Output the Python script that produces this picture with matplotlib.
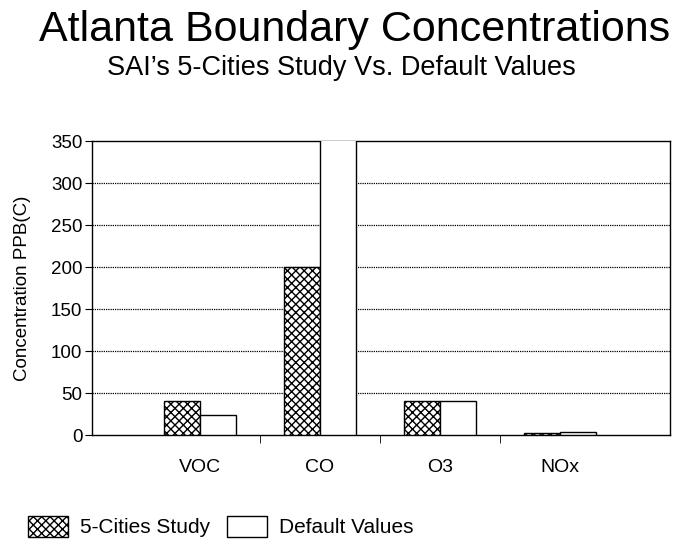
import numpy as np
import matplotlib.pyplot as plt

plt.rcParams['font.family'] = ['Liberation Sans', 'DejaVu Sans']
plt.rcParams['hatch.linewidth'] = 1.0

categories = ["VOC", "CO", "O3", "NOx"]
five_cities = [40, 200, 41, 2]
default_values = [24, 1000, 41, 3]

fig = plt.figure(figsize=(6.84, 5.56), dpi=100)
ax = fig.add_axes([0.1345, 0.2176, 0.8455, 0.5288])

x = np.arange(len(categories))
w = 0.3
ax.bar(x - w / 2, five_cities, w, color="white", edgecolor="black",
       hatch="xxxx", linewidth=1.0, label="5-Cities Study", zorder=3)
ax.bar(x + w / 2, default_values, w, color="white", edgecolor="black",
       linewidth=1.0, label="Default Values", zorder=3)

ax.set_xlim(-0.9, 3.92)
ax.set_ylim(0, 350)
ax.set_yticks(np.arange(0, 351, 50))
ax.set_xticks(x)
ax.set_xticklabels(categories, fontsize=14)
ax.set_xticks([0.5, 1.5, 2.5], minor=True)
ax.tick_params(axis="x", which="major", length=0, pad=17)
ax.tick_params(axis="x", which="minor", length=6, direction="out")
ax.tick_params(axis="y", length=5, direction="out", labelsize=13.5, pad=2)
for s in ax.spines.values():
    s.set_linewidth(1.0)

# dotted grid, hidden behind the bars
for yv in range(50, 350, 50):
    ax.axhline(yv, color="black", linestyle=(0, (1, 0.8)), linewidth=0.9, zorder=1)

ax.set_ylabel("Concentration PPB(C)", fontsize=13.5, labelpad=14)

fig.text(0.519, 0.946, "Atlanta Boundary Concentrations", ha="center",
         va="center", fontsize=31)
fig.text(0.499, 0.877, "SAI\u2019s 5-Cities Study Vs. Default Values",
         ha="center", va="center", fontsize=19.5)

fig.legend(loc="lower left", bbox_to_anchor=(0.014, 0.0), ncol=2,
           frameon=False, fontsize=15, handlelength=1.9, handleheight=1.2,
           columnspacing=0.8, handletextpad=0.6)

fig.savefig("out.png", dpi=100)
